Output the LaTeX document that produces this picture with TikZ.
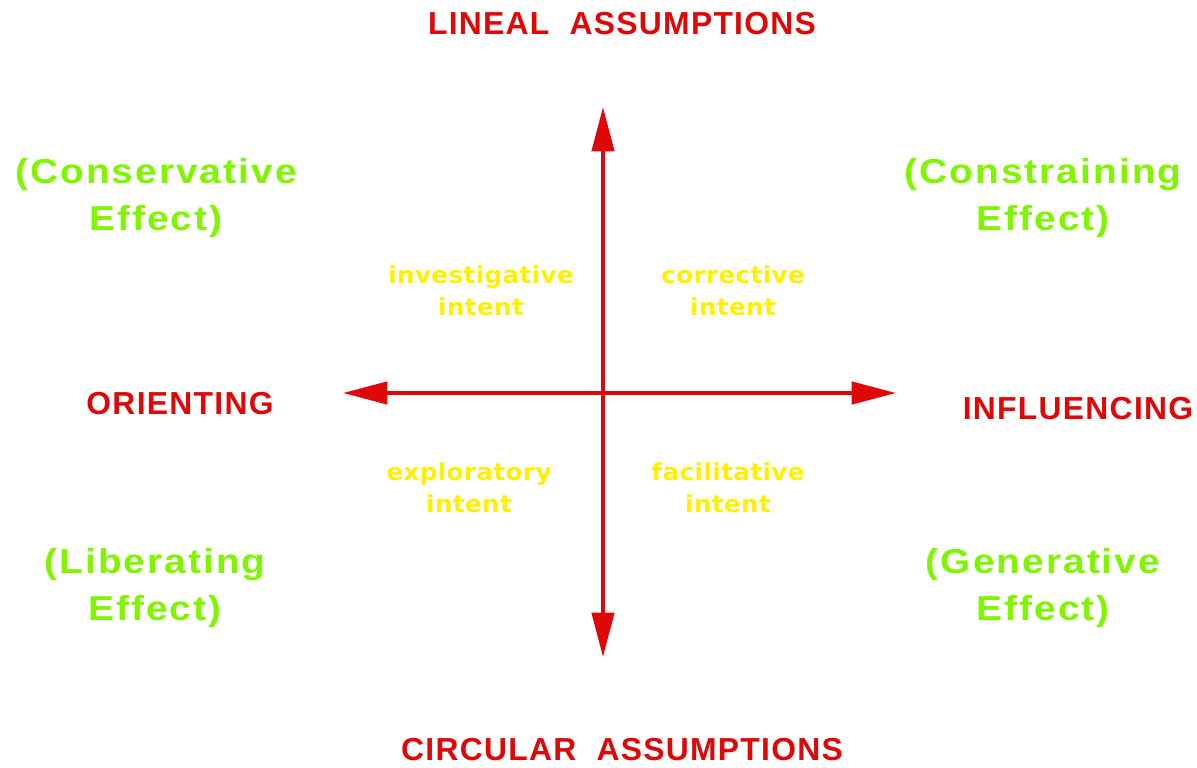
\documentclass[tikz,border=0pt]{standalone}
\usepackage{fontspec}
\usetikzlibrary{arrows.meta}
\newfontfamily\axisfont[LetterSpace=4]{Liberation Sans}
\newfontfamily\effectfont[FakeStretch=1.12,LetterSpace=6]{Liberation Sans}
\newfontfamily\intentfont[FakeStretch=1.04,LetterSpace=2]{DejaVu Sans}
\definecolor{axisred}{RGB}{222,8,8}
\definecolor{effectgreen}{RGB}{128,245,0}
\definecolor{intentyellow}{RGB}{255,240,0}
\tikzset{
  axis/.style = {draw=axisred, line width=2.9pt,
    {Triangle[length=32pt,width=16pt]}-{Triangle[length=32pt,width=16pt]}},
  axislabel/.style = {text=axisred, inner sep=0pt,
    font=\axisfont\bfseries\fontsize{23}{28}\selectfont},
  effect/.style = {text=effectgreen, inner sep=0pt, align=center,
    font=\effectfont\bfseries\fontsize{25}{34}\selectfont},
  intent/.style = {text=intentyellow, inner sep=0pt, align=center,
    font=\intentfont\bfseries\fontsize{17}{23}\selectfont}
}
\begin{document}
\begin{tikzpicture}[x=0.01in, y=-0.01in]
  \useasboundingbox (0,0) rectangle (1197,767);
  % ends of the two axes
  \coordinate (top) at (603,107);
  \coordinate (bottom) at (603,657);
  \coordinate (left) at (343,393);
  \coordinate (right) at (896,393);
  \draw[axis] (bottom) -- (top);
  \draw[axis] (left) -- (right);

  % labels at the ends of the axes
  \node[axislabel] (lineal) at (622,24) {LINEAL\ \ ASSUMPTIONS};
  \node[axislabel] (circular) at (622,750) {CIRCULAR\ \ ASSUMPTIONS};
  \node[axislabel] (orienting) at (180,404) {ORIENTING};
  \node[axislabel] (influencing) at (1078,409) {INFLUENCING};

  % effects in the corners
  \node[effect] (conservative) at (156,198) {(Conservative\\Effect)};
  \node[effect] (constraining) at (1043,198) {(Constraining\\Effect)};
  \node[effect] (liberating) at (155,588) {(Liberating\\Effect)};
  \node[effect] (generative) at (1043,588) {(Generative\\Effect)};

  % intents in the quadrants
  \node[intent] (investigative) at (481,291) {investigative\\intent};
  \node[intent] (corrective) at (733,291) {corrective\\intent};
  \node[intent] (exploratory) at (469,488) {exploratory\\intent};
  \node[intent] (facilitative) at (728,488) {facilitative\\intent};
\end{tikzpicture}
\end{document}
